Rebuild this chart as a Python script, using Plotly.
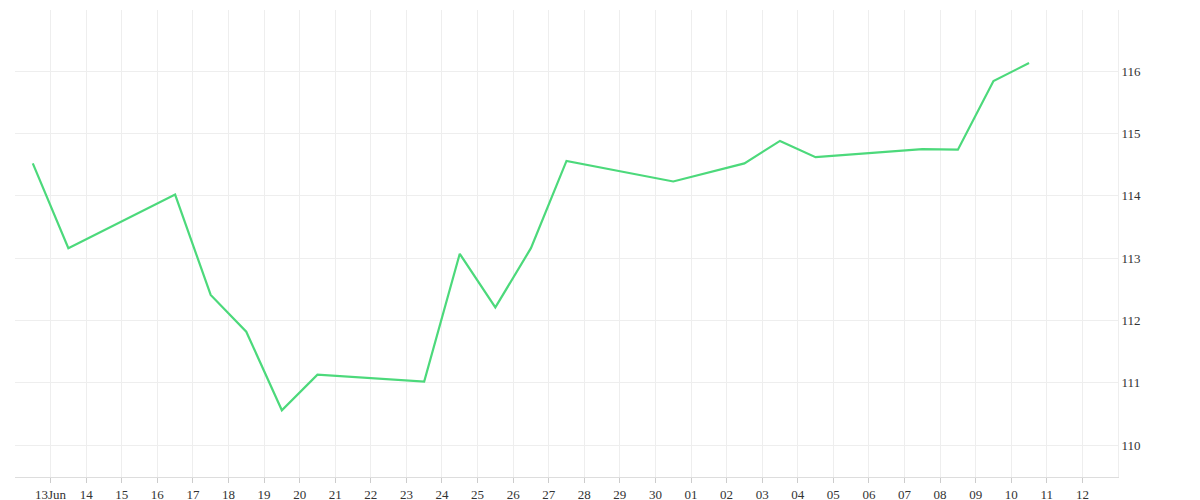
import plotly.graph_objects as go

dates = ["2025-06-12 12:00", "2025-06-13 12:00", "2025-06-16 12:00", "2025-06-17 12:00",
         "2025-06-18 12:00", "2025-06-19 12:00", "2025-06-20 12:00", "2025-06-23 12:00",
         "2025-06-24 12:00", "2025-06-25 12:00", "2025-06-26 12:00", "2025-06-27 12:00",
         "2025-06-30 12:00", "2025-07-02 12:00", "2025-07-03 12:00", "2025-07-04 12:00",
         "2025-07-07 12:00", "2025-07-08 12:00", "2025-07-09 12:00", "2025-07-10 12:00"]
values = [114.52, 113.16, 114.02, 112.41, 111.82, 110.56, 111.13, 111.02, 113.07, 112.21,
          113.16, 114.56, 114.23, 114.52, 114.88, 114.62, 114.75, 114.74, 115.84, 116.13]

tick_vals = ["2025-06-%02d" % d for d in range(13, 31)] + ["2025-07-%02d" % d for d in range(1, 13)]
tick_text = ["13Jun"] + ["%02d" % d for d in range(14, 31)] + ["%02d" % d for d in range(1, 13)]

fig = go.Figure()
fig.add_trace(go.Scatter(x=dates, y=values, mode="lines",
                         line=dict(color="#4cd97b", width=2.2)))

fig.update_layout(
    width=1200, height=500,
    margin=dict(l=7, r=90, t=2, b=31),
    plot_bgcolor="white", paper_bgcolor="white",
    showlegend=False,
    font=dict(family="Liberation Serif", size=13, color="#333"),
)
fig.update_xaxes(range=["2025-06-12", "2025-07-13"], tickvals=tick_vals, ticktext=tick_text,
                 showgrid=True, gridcolor="#eeeeee", ticks="outside", ticklen=5,
                 tickcolor="#cccccc", showline=True, linecolor="#dddddd", zeroline=False)
fig.update_yaxes(side="right", range=[109.49, 116.98], dtick=1, showgrid=True,
                 gridcolor="#eeeeee", zeroline=False, ticks="", showline=True,
                 linecolor="#eeeeee")

fig.write_html("out.html")
